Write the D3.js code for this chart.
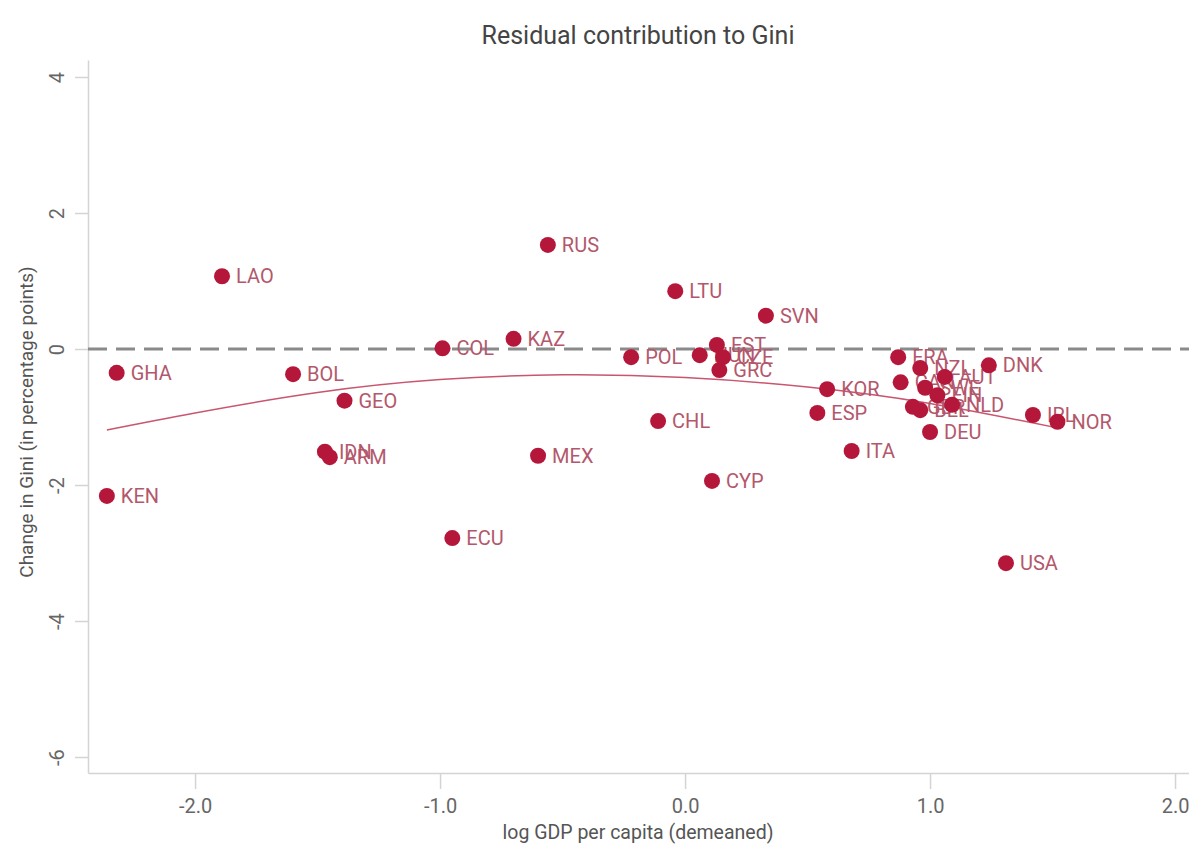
<!DOCTYPE html>
<html>
<head>
<meta charset="utf-8">
<script src="https://cdn.jsdelivr.net/npm/d3@7"></script>
<style>
  body { margin: 0; background: #fff; }
  text { font-family: Roboto, "Noto Sans", sans-serif; }
</style>
</head>
<body>
<div id="chart"></div>
<script>
// country codes, log GDP per capita (demeaned), residual change in Gini
const countries = ["KEN","GHA","LAO","BOL","GEO","IDN","ARM","COL","ECU","KAZ","RUS","MEX","POL","CHL","LTU",
  "HUN","EST","CZE","GRC","SVN","CYP","ESP","KOR","ITA","FRA","NZL","CAN","AUT","SWE","FIN","GBR","BEL","NLD",
  "DNK","DEU","IRL","NOR","USA"];
const gdp = [-2.36,-2.32,-1.89,-1.60,-1.39,-1.47,-1.45,-0.99,-0.95,-0.70,-0.56,-0.60,-0.22,-0.11,-0.04,
  0.06,0.13,0.155,0.14,0.33,0.11,0.54,0.58,0.68,0.87,0.96,0.88,1.06,0.98,1.03,0.93,0.96,1.09,
  1.24,1.00,1.42,1.52,1.31];
const gini = [-2.16,-0.35,1.07,-0.37,-0.76,-1.51,-1.59,0.01,-2.78,0.15,1.53,-1.57,-0.12,-1.06,0.85,
  -0.09,0.06,-0.12,-0.31,0.49,-1.94,-0.94,-0.59,-1.50,-0.12,-0.28,-0.49,-0.41,-0.57,-0.68,-0.85,-0.90,-0.82,
  -0.24,-1.22,-0.97,-1.07,-3.15];

// quadratic fit line
const fitX = [-2.36,-2.0,-1.5,-1.0,-0.5,0,0.5,1.0,1.52];
const fitY = [-1.19,-0.94,-0.64,-0.45,-0.38,-0.42,-0.56,-0.80,-1.16];

const xTicks = [-2,-1,0,1,2];
const yTicks = [-6,-4,-2,0,2,4];

const W = 1189, H = 845;
const margin = { top: 60, right: 0, bottom: 72, left: 88 };

const svg = d3.select("#chart").append("svg")
    .attr("width", W)
    .attr("height", H);

const x = d3.scaleLinear()
    .domain([-2.437, 2.057])
    .range([margin.left, W - margin.right]);
const y = d3.scaleLinear()
    .domain([-6.235, 4.25])
    .range([H - margin.bottom, margin.top]);

const data = countries.map((c, i) => ({ name: c, x: gdp[i], y: gini[i] }));

// plain hyphen for negatives, like the original
const fmtX = d => d3.format(".1f")(d).replace("−", "-");
const fmtY = d => String(d);

// axes
const xAxis = svg.append("g")
    .attr("transform", `translate(0,${H - margin.bottom})`)
    .call(d3.axisBottom(x).tickValues(xTicks).tickFormat(fmtX).tickSize(16).tickSizeOuter(0).tickPadding(10));
xAxis.select(".domain").attr("stroke", "#d4d4d4").attr("stroke-width", 1.5);
xAxis.selectAll(".tick line").attr("stroke", "#d4d4d4").attr("stroke-width", 1.5);
xAxis.selectAll(".tick text").attr("fill", "#666").style("font-size", "20px");

const yAxis = svg.append("g")
    .attr("transform", `translate(${margin.left},0)`)
    .call(d3.axisLeft(y).tickValues(yTicks).tickFormat(fmtY).tickSize(13).tickSizeOuter(0).tickPadding(0));
yAxis.select(".domain").attr("stroke", "#d4d4d4").attr("stroke-width", 1.5);
yAxis.selectAll(".tick line").attr("stroke", "#d4d4d4").attr("stroke-width", 1.5);
yAxis.selectAll(".tick text")
    .attr("fill", "#666")
    .style("font-size", "20px")
    .attr("x", 0).attr("dy", 0)
    .attr("text-anchor", "middle")
    .attr("transform", "translate(-31,0) rotate(-90)")
    .attr("dominant-baseline", "central");

// zero line
svg.append("line")
    .attr("x1", margin.left).attr("x2", W)
    .attr("y1", y(0)).attr("y2", y(0))
    .attr("stroke", "#8a8a8a")
    .attr("stroke-width", 3)
    .attr("stroke-dasharray", "19,9");

// fit line
const line = d3.line()
    .x((d, i) => x(fitX[i]))
    .y(d => y(d))
    .curve(d3.curveNatural);
svg.append("path")
    .attr("d", line(fitY))
    .attr("fill", "none")
    .attr("stroke", "#c9566f")
    .attr("stroke-width", 1.5);

// labels first, dots drawn on top
svg.append("g").selectAll("text")
    .data(data)
  .enter().append("text")
    .attr("x", d => x(d.x) + 14)
    .attr("y", d => y(d.y))
    .attr("dominant-baseline", "central")
    .attr("fill", "#b3586c")
    .style("font-size", "20px")
    .text(d => d.name);

svg.append("g").selectAll("circle")
    .data(data)
  .enter().append("circle")
    .attr("cx", d => x(d.x))
    .attr("cy", d => y(d.y))
    .attr("r", 8)
    .attr("fill", "#b5173b");

// titles
svg.append("text")
    .attr("x", 638).attr("y", 44)
    .attr("text-anchor", "middle")
    .attr("fill", "#444")
    .style("font-size", "25px")
    .text("Residual contribution to Gini");

svg.append("text")
    .attr("x", 638).attr("y", 839)
    .attr("text-anchor", "middle")
    .attr("fill", "#555")
    .style("font-size", "19.5px")
    .text("log GDP per capita (demeaned)");

svg.append("text")
    .attr("transform", "translate(26,422) rotate(-90)")
    .attr("text-anchor", "middle")
    .attr("dominant-baseline", "central")
    .attr("fill", "#555")
    .style("font-size", "19px")
    .text("Change in Gini (in percentage points)");
</script>
</body>
</html>
